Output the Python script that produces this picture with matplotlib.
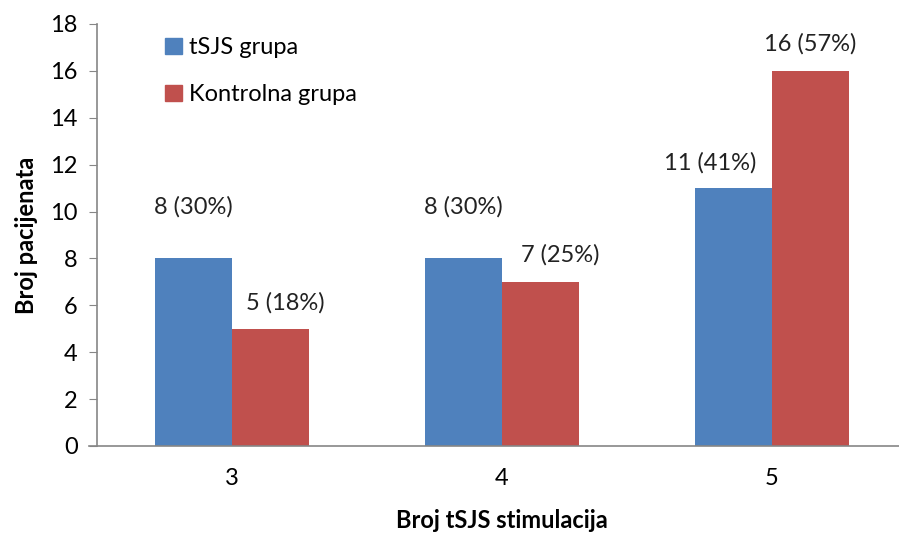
import matplotlib
matplotlib.use("Agg")
import matplotlib.pyplot as plt
import numpy as np
from matplotlib.patches import Patch

plt.rcParams["font.family"] = ["Lato", "DejaVu Sans"]

categories = ["3", "4", "5"]
tsjs = [8, 8, 11]
kontrola = [5, 7, 16]
tsjs_pct = [30, 30, 41]
kontrola_pct = [18, 25, 57]
series_names = ["tSJS grupa", "Kontrolna grupa"]

BLUE = "#4F81BD"
RED = "#C0504D"
GRAY = "#868686"

# label offsets (pixels) from bar top centre: (dx, dy)
off_tsjs = [(0, 52), (0, 52), (-23, 25)]
off_kontrola = [(15, 26), (20, 27), (0, 27)]

fig = plt.figure(figsize=(8.99, 5.33), dpi=100)
W, H = 899, 533
ax = fig.add_axes([97 / W, 1 - 446 / H, 810 / W, 422 / H])

x = np.arange(len(categories))
w = 0.285
b1 = ax.bar(x - w / 2, tsjs, w, color=BLUE)
b2 = ax.bar(x + w / 2, kontrola, w, color=RED)

FS = 17
px = 72 / 100
for bars, vals, pcts, offs in [(b1, tsjs, tsjs_pct, off_tsjs),
                               (b2, kontrola, kontrola_pct, off_kontrola)]:
    for r, v, p, (dx, dy) in zip(bars, vals, pcts, offs):
        ax.annotate(f"{v} ({p}%)", (r.get_x() + r.get_width() / 2, v),
                    xytext=(dx * px, dy * px), textcoords="offset points",
                    ha="center", va="center", fontsize=FS, color="#222222")

ax.set_xlim(-0.5, 2.5)
ax.set_ylim(0, 18)
ax.set_yticks(range(0, 19, 2))
ax.set_xticks(x)
ax.set_xticklabels(categories)
ax.tick_params(axis="y", length=6, color=GRAY, labelsize=FS, pad=8)
ax.tick_params(axis="x", length=0, labelsize=FS, pad=16)
for s in ["top", "right"]:
    ax.spines[s].set_visible(False)
for s in ["left", "bottom"]:
    ax.spines[s].set_color(GRAY)
    ax.spines[s].set_linewidth(1.2)
ax.spines["bottom"].set_bounds(-0.5 - 8 / 270, 2.5)

ax.set_xlabel("Broj tSJS stimulacija", fontsize=FS, fontweight="bold", labelpad=14)
ax.set_ylabel("Broj pacijenata", fontsize=FS, fontweight="bold", labelpad=9)

handles = [Patch(color=BLUE), Patch(color=RED)]
fig.legend(handles, series_names, loc="upper left",
           bbox_to_anchor=(144 / W, 1 - 16 / H), frameon=False,
           fontsize=FS, handlelength=0.7, handleheight=0.7,
           handletextpad=0.3, labelspacing=1.1)

fig.savefig("out.png", dpi=100)
